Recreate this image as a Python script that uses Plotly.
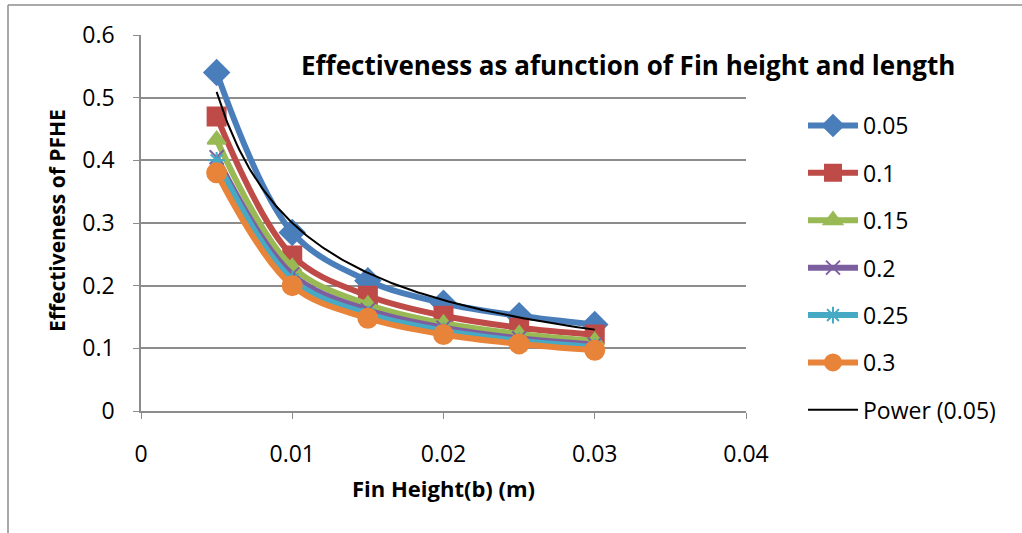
import numpy as np
import plotly.graph_objects as go

# ---- data ----
fin_height = [0.005, 0.01, 0.015, 0.02, 0.025, 0.03]
series_names = ["0.05", "0.1", "0.15", "0.2", "0.25", "0.3"]
s_005 = [0.540, 0.285, 0.208, 0.172, 0.152, 0.138]
s_010 = [0.470, 0.248, 0.184, 0.152, 0.133, 0.122]
s_015 = [0.433, 0.230, 0.170, 0.140, 0.123, 0.112]
s_020 = [0.405, 0.218, 0.161, 0.133, 0.116, 0.106]
s_025 = [0.400, 0.210, 0.155, 0.128, 0.112, 0.102]
s_030 = [0.380, 0.200, 0.148, 0.122, 0.107, 0.097]
x_ticks = [0, 0.01, 0.02, 0.03, 0.04]
x_tick_text = ["0", "0.01", "0.02", "0.03", "0.04"]
y_ticks = [0, 0.1, 0.2, 0.3, 0.4, 0.5, 0.6]
y_tick_text = ["0", "0.1", "0.2", "0.3", "0.4", "0.5", "0.6"]

all_series = [s_005, s_010, s_015, s_020, s_025, s_030]
colors = ["#4A7EBB", "#BE4B48", "#98B954", "#7D5FA0", "#46AAC5", "#E8843A"]
symbols = ["diamond", "square", "triangle-up", "x-thin-open", "asterisk-open", "circle"]
msizes = [19, 18, 16, 14, 14, 19]

FONT = "Open Sans"
fig = go.Figure()
for i, (name, ys) in enumerate(zip(series_names, all_series)):
    fig.add_trace(go.Scatter(
        x=fin_height, y=ys, name=name, mode="lines+markers",
        line=dict(color=colors[i], width=6, shape="spline", smoothing=1.0),
        marker=dict(symbol=symbols[i], size=msizes[i], color=colors[i],
                    line=dict(color=colors[i], width=2)),
        legendgroup=name,
    ))

# power trendline fitted to the 0.05 series
b, lna = np.polyfit(np.log(fin_height), np.log(s_005), 1)
xt = np.linspace(fin_height[0], fin_height[-1], 200)
yt = np.exp(lna) * xt ** b
fig.add_trace(go.Scatter(x=xt, y=yt, name="Power (0.05)", mode="lines",
                         line=dict(color="black", width=2), legendgroup="pw"))

L, R, T, B = 141, 746, 35, 411
W, H = 1022, 533
pw, ph = R - L, B - T

def px_x(p):
    return (p - L) / pw

def px_y(p):
    return (B - p) / ph

fig.update_layout(
    width=W, height=H,
    margin=dict(l=L, r=W - R, t=T, b=H - B, pad=0),
    paper_bgcolor="white", plot_bgcolor="white",
    font=dict(family=FONT, size=23, color="black"),
    showlegend=True,
    legend=dict(x=px_x(803), y=px_y(104), xanchor="left", yanchor="top",
                font=dict(family=FONT, size=23, color="black"),
                tracegroupgap=14.5, itemwidth=50, bgcolor="rgba(0,0,0,0)"),
    xaxis=dict(range=[0, 0.04], tickvals=x_ticks, ticktext=x_tick_text,
               showgrid=False, zeroline=False, showline=True,
               linecolor="#8C8C8C", linewidth=1.5, ticks="outside",
               tickcolor="#8C8C8C", ticklen=6, ticklabelstandoff=16,
               tickfont=dict(family=FONT, size=23)),
    yaxis=dict(range=[0, 0.6], tickvals=y_ticks, ticktext=y_tick_text,
               showgrid=True, gridcolor="#8C8C8C", gridwidth=1.5,
               zeroline=False, showline=True,
               linecolor="#8C8C8C", linewidth=1.5, ticks="outside",
               tickcolor="#8C8C8C", ticklen=6, ticklabelstandoff=14,
               tickfont=dict(family=FONT, size=23)),
    annotations=[
        dict(text="<b>Effectiveness as afunction of Fin height and length</b>",
             x=px_x(628), y=px_y(65), xref="paper", yref="paper",
             xanchor="center", yanchor="middle", showarrow=False,
             font=dict(family=FONT, size=26, color="black")),
        dict(text="<b>Fin Height(b) (m)</b>",
             x=px_x(443), y=px_y(488), xref="paper", yref="paper",
             xanchor="center", yanchor="middle", showarrow=False,
             font=dict(family=FONT, size=22, color="black")),
        dict(text="<b>Effectiveness of PFHE</b>",
             x=px_x(57), y=px_y(221), xref="paper", yref="paper",
             xanchor="center", yanchor="middle", showarrow=False, textangle=-90,
             font=dict(family=FONT, size=21, color="black")),
    ],
    shapes=[
        dict(type="line", xref="paper", yref="paper",
             x0=px_x(8), x1=px_x(1030), y0=px_y(5), y1=px_y(5),
             line=dict(color="#8C8C8C", width=1.5)),
        dict(type="line", xref="paper", yref="paper",
             x0=px_x(8), x1=px_x(8), y0=px_y(5), y1=px_y(540),
             line=dict(color="#8C8C8C", width=1.5)),
    ],
)

fig.write_html("out.html",
               config={"displayModeBar": False},
               post_script="document.body.style.margin='0';"
                           "document.body.style.overflow='hidden';")
